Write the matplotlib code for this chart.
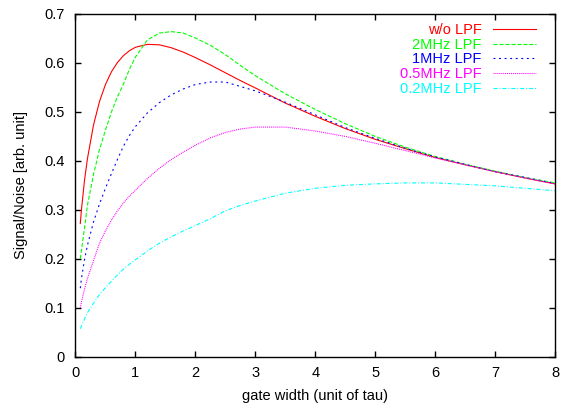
import matplotlib
matplotlib.use("Agg")
import matplotlib.pyplot as plt

plt.rcParams['font.family'] = ['Liberation Sans', 'DejaVu Sans']
plt.rcParams['lines.scale_dashes'] = False

# gate width in units of tau
gate = [0.08, 0.1, 0.15, 0.2, 0.3, 0.4, 0.5, 0.6, 0.7, 0.8, 0.9, 1.0, 1.2, 1.4, 1.6, 1.8,
        2.0, 2.25, 2.5, 2.75, 3.0, 3.5, 4.0, 4.5, 5.0, 5.5, 6.0, 6.5, 7.0, 7.5, 8.0]

sn_nolpf = [0.272, 0.301, 0.360, 0.405, 0.473, 0.521, 0.556, 0.582, 0.601, 0.615, 0.625, 0.632, 0.638, 0.637, 0.631, 0.622,
            0.611, 0.596, 0.580, 0.564, 0.549, 0.518, 0.491, 0.466, 0.444, 0.425, 0.407, 0.392, 0.378, 0.365, 0.353]
sn_2mhz = [0.200, 0.218, 0.262, 0.310, 0.372, 0.423, 0.463, 0.500, 0.531, 0.557, 0.587, 0.612, 0.647, 0.661, 0.664, 0.661,
           0.651, 0.636, 0.617, 0.595, 0.574, 0.537, 0.505, 0.476, 0.450, 0.428, 0.409, 0.393, 0.379, 0.366, 0.355]
sn_1mhz = [0.140, 0.160, 0.198, 0.228, 0.275, 0.312, 0.344, 0.374, 0.403, 0.430, 0.452, 0.470, 0.498, 0.519, 0.535, 0.547,
           0.556, 0.561, 0.561, 0.552, 0.543, 0.520, 0.494, 0.468, 0.446, 0.426, 0.408, 0.393, 0.378, 0.366, 0.354]
sn_05mhz = [0.100, 0.112, 0.138, 0.160, 0.196, 0.232, 0.257, 0.279, 0.298, 0.314, 0.328, 0.340, 0.364, 0.385, 0.403, 0.418,
            0.432, 0.447, 0.458, 0.465, 0.469, 0.469, 0.461, 0.450, 0.436, 0.421, 0.406, 0.392, 0.378, 0.365, 0.353]
sn_02mhz = [0.057, 0.063, 0.077, 0.090, 0.109, 0.127, 0.141, 0.154, 0.167, 0.179, 0.189, 0.198, 0.216, 0.232, 0.245, 0.257,
            0.268, 0.282, 0.298, 0.309, 0.318, 0.334, 0.344, 0.350, 0.353, 0.355, 0.355, 0.352, 0.349, 0.344, 0.339]

labels = ['w/o LPF', '2MHz LPF', '1MHz LPF', '0.5MHz LPF', '0.2MHz LPF']
colors = ['#ff0000', '#00ff00', '#0000ff', '#ff00ff', '#00ffff']
styles = ['-', (0, (2.9, 1.4)), (0, (1.4, 2.6)), (0, (0.7, 0.7)), (0, (2.9, 1.4, 0.7, 1.4))]

fig = plt.figure(figsize=(5.63, 4.09), dpi=100)
ax = fig.add_axes([0.1341, 0.1279, 0.8517, 0.8379])

for ys, lab, c, ls in zip([sn_nolpf, sn_2mhz, sn_1mhz, sn_05mhz, sn_02mhz], labels, colors, styles):
    ax.plot(gate, ys, color=c, linestyle=ls, linewidth=0.8, label=lab)

ax.set_xlim(0, 8)
ax.set_ylim(0, 0.7)
ax.set_xticks(range(9))
ax.set_yticks([0, 0.1, 0.2, 0.3, 0.4, 0.5, 0.6, 0.7])
ax.set_yticklabels(['0', '0.1', '0.2', '0.3', '0.4', '0.5', '0.6', '0.7'])
ax.tick_params(direction='in', top=True, right=True, length=4.3, width=1.0,
               labelsize=10.5, colors='black')
ax.tick_params(axis='y', pad=7.5)
ax.tick_params(axis='x', pad=7)
for sp in ax.spines.values():
    sp.set_linewidth(1.0)

ax.set_xlabel('gate width (unit of tau)', fontsize=10.5)
ax.set_ylabel('Signal/Noise [arb. unit]', fontsize=10.5)
ax.xaxis.set_label_coords(0.5, -0.095)
ax.yaxis.set_label_coords(-0.10, 0.5)

ax.legend(loc='upper right', bbox_to_anchor=(0.960, 0.974), frameon=False,
          markerfirst=False, labelcolor='linecolor', fontsize=10.5,
          handlelength=2.95, handletextpad=0.75, labelspacing=0.05,
          borderpad=0, borderaxespad=0)

fig.savefig('out.png', dpi=100)
